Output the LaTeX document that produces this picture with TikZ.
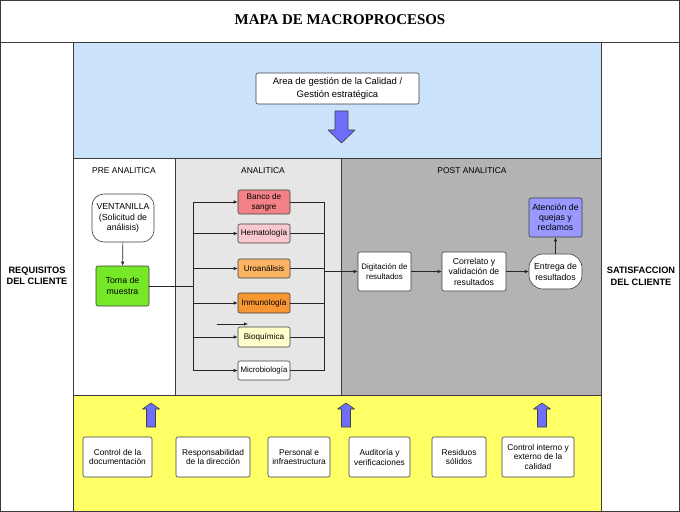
\documentclass[tikz,border=0pt]{standalone}
\usepackage{fontspec}
\setmainfont{Liberation Sans}
\newfontfamily\titlefont{Liberation Serif}
\usetikzlibrary{arrows.meta}
\definecolor{bgblue}{RGB}{202,227,250}
\definecolor{bgana}{RGB}{230,230,230}
\definecolor{bgpost}{RGB}{179,179,179}
\definecolor{bgyellow}{RGB}{255,255,102}
\definecolor{cbanco}{RGB}{242,130,135}
\definecolor{chema}{RGB}{248,200,204}
\definecolor{curo}{RGB}{250,180,100}
\definecolor{cinmu}{RGB}{247,150,50}
\definecolor{cbioq}{RGB}{255,255,204}
\definecolor{ctoma}{RGB}{118,232,40}
\definecolor{caten}{RGB}{153,153,255}
\definecolor{arrowblue}{RGB}{110,110,250}
\definecolor{edge}{RGB}{60,60,60}
\begin{document}
\begin{tikzpicture}[x=1bp,y=-1bp,
  box/.style={draw=edge, fill=white, rounded corners=2pt, align=center, inner sep=1pt, line width=0.6pt},
  fa/.style={font=\fontsize{8.2}{10}\selectfont},
  fb/.style={font=\fontsize{8.8}{10.8}\selectfont},
  fc/.style={font=\fontsize{8.4}{10}\selectfont},
  lbl/.style={font=\fontsize{8.5}{10}\selectfont, inner sep=0pt},
  side/.style={font=\bfseries\fontsize{9.3}{11.5}\selectfont, align=center, inner sep=0pt},
  conn/.style={draw=black!85, line width=0.6pt},
  arr/.style={conn, -{Latex[length=4pt,width=3.5pt]}},
  fat/.style={fill=arrowblue, draw=black!75, line width=0.6pt, line join=round}
]
\useasboundingbox (0,0) rectangle (680,512);
% backgrounds
\fill[white] (0,0) rectangle (680,512);
\fill[bgblue] (73,42) rectangle (601,158);
\fill[white] (73,158) rectangle (175,395);
\fill[bgana] (175,158) rectangle (341,395);
\fill[bgpost] (341,158) rectangle (601,395);
\fill[bgyellow] (73,395) rectangle (601,512);
% frame lines
\draw[edge, line width=0.8pt] (0.5,0.5) rectangle (679.5,511.5);
\draw[edge, line width=0.8pt] (0,42) -- (680,42);
\draw[edge, line width=0.8pt] (73,42) -- (73,512);
\draw[edge, line width=0.8pt] (601,42) -- (601,512);
\draw[edge, line width=0.8pt] (73,158) -- (601,158);
\draw[edge, line width=0.8pt] (73,395) -- (601,395);
\draw[edge, line width=0.8pt] (175,158) -- (175,395);
\draw[edge, line width=0.8pt] (341,158) -- (341,395);

% title and side labels
\node[font=\titlefont\bfseries\fontsize{15}{17}\selectfont, inner sep=0pt] (title) at (340,20) {MAPA DE MACROPROCESOS};
\node[side] (req) at (37,276) {REQUISITOS\\DEL CLIENTE};
\node[side] (sat) at (641,276.5) {SATISFACCION\\DEL CLIENTE};

% top area
\node[box, font=\fontsize{9.5}{13}\selectfont, minimum width=163bp, minimum height=31bp] (area) at (337.5,88.5) {Area de gestión de la Calidad /\\Gestión estratégica};
\draw[fat] (335,111) -- (348,111) -- (348,130) -- (355,130) -- (341.5,143) -- (328,130) -- (335,130) -- cycle;

% phase labels
\node[lbl] (lpre) at (124,171) {PRE ANALITICA};
\node[lbl] (lana) at (263,171) {ANALITICA};
\node[lbl] (lpost) at (472,171) {POST ANALITICA};

% pre analitica
\node[box, fb, rounded corners=12pt, minimum width=62bp, minimum height=48bp] (vent) at (123,218) {VENTANILLA\\(Solicitud de\\análisis)};
\node[box, fb, fill=ctoma, minimum width=53bp, minimum height=40bp] (toma) at (122.5,286) {Toma de\\muestra};
\draw[arr] (vent) -- (toma);

% analitica
\node[box, fa, fill=cbanco, minimum width=52bp, minimum height=24bp] (banco) at (264,202) {Banco de\\sangre};
\node[box, fa, fill=chema, minimum width=52bp, minimum height=19bp] (hema) at (264,233.5) {Hematología};
\node[box, fa, fill=curo, minimum width=52bp, minimum height=19bp] (uro) at (264,268.5) {Uroanálisis};
\node[box, fa, fill=cinmu, minimum width=52bp, minimum height=20bp] (inmu) at (264,303) {Inmunología};
\node[box, fa, fill=cbioq, minimum width=52bp, minimum height=20bp] (bioq) at (264,337) {Bioquímica};
\node[box, minimum width=52bp, minimum height=19bp, font=\fontsize{7.9}{9}\selectfont] (micro) at (264,370.5) {Microbiología};

\coordinate (bl) at (193,286);
\coordinate (blt) at (193,202);
\coordinate (blb) at (193,370.5);
\coordinate (br) at (324,271.5);
\coordinate (brt) at (324,202);
\coordinate (brb) at (324,370.5);
\draw[conn] (blt) -- (blb);
\draw[conn] (brt) -- (brb);
\draw[conn] (toma.east) -- (toma.east -| bl);
\foreach \n in {banco,hema,uro,inmu,bioq,micro}{
  \draw[arr] (\n.west -| bl) -- (\n.west);
  \draw[conn] (\n.east) -- (\n.east -| br);
}
\coordinate (s1) at (217,324);
\coordinate (s2) at (248,324);
\draw[arr] (s1) -- (s2);

% post analitica
\node[box, font=\fontsize{8}{10}\selectfont, minimum width=53bp, minimum height=39bp] (dig) at (384.5,271.5) {Digitación de\\resultados};
\node[box, font=\fontsize{8.7}{10.5}\selectfont, minimum width=64bp, minimum height=39bp] (corr) at (474,271.5) {Correlato y\\validación de\\resultados};
\node[box, fb, rounded corners=14pt, minimum width=53bp, minimum height=35bp] (ent) at (555.5,271.5) {Entrega de\\resultados};
\node[box, font=\fontsize{8.8}{10}\selectfont, fill=caten, minimum width=53bp, minimum height=39bp] (aten) at (555.5,217.5) {Atención de\\quejas y\\reclamos};
\draw[arr] (br) -- (dig.west);
\draw[arr] (dig) -- (corr);
\draw[arr] (corr) -- (ent);
\draw[arr] (ent) -- (aten);

% bottom support
\foreach \x in {151,346,542}{
  \draw[fat] (\x-4.5,427) -- (\x-4.5,409) -- (\x-8.5,409) -- (\x,403) -- (\x+8.5,409) -- (\x+4.5,409) -- (\x+4.5,427) -- cycle;
}
\node[box, fc, minimum width=69bp, minimum height=40bp] (b1) at (117.5,457) {Control de la\\documentación};
\node[box, fc, minimum width=74bp, minimum height=40bp] (b2) at (213,457) {Responsabilidad\\de la dirección};
\node[box, fc, minimum width=62bp, minimum height=40bp] (b3) at (299,457) {Personal e\\infraestructura};
\node[box, fc, minimum width=61bp, minimum height=40bp] (b4) at (379.5,457) {Auditoría y\\verificaciones};
\node[box, fc, minimum width=54bp, minimum height=40bp] (b5) at (459,457) {Residuos\\sólidos};
\node[box, fc, minimum width=72bp, minimum height=40bp] (b6) at (538,457) {Control interno y\\externo de la\\calidad};
\end{tikzpicture}
\end{document}
